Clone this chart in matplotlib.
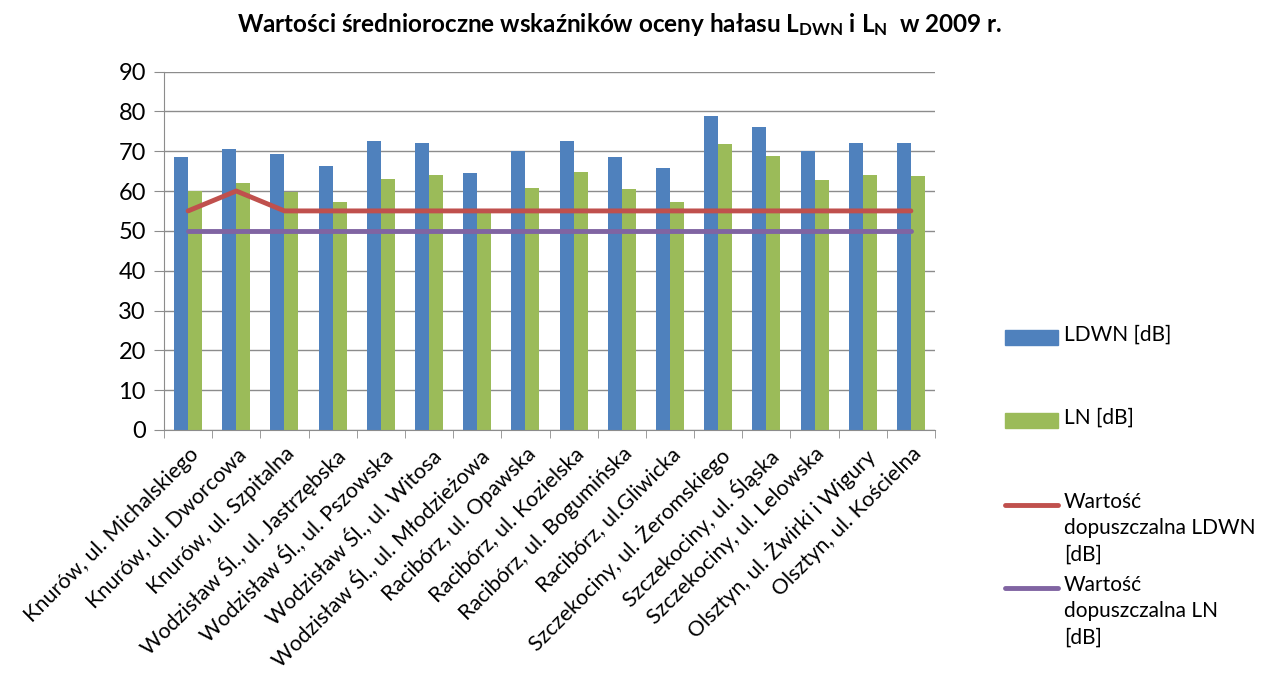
import numpy as np
import matplotlib.pyplot as plt
from matplotlib.patches import Rectangle
from matplotlib.lines import Line2D

plt.rcParams['font.family'] = ['Lato', 'DejaVu Sans']
plt.rcParams['mathtext.fontset'] = 'custom'
plt.rcParams['mathtext.rm'] = 'Lato'
plt.rcParams['mathtext.bf'] = 'Lato:bold'

stanowiska = [
    "Knurów, ul. Michalskiego",
    "Knurów, ul. Dworcowa",
    "Knurów, ul. Szpitalna",
    "Wodzisław Śl., ul. Jastrzębska",
    "Wodzisław Śl., ul. Pszowska",
    "Wodzisław Śl., ul. Witosa",
    "Wodzisław Śl., ul. Młodzieżowa",
    "Racibórz, ul. Opawska",
    "Racibórz, ul. Kozielska",
    "Racibórz, ul. Bogumińska",
    "Racibórz, ul.Gliwicka",
    "Szczekociny, ul. Żeromskiego",
    "Szczekociny, ul. Śląska",
    "Szczekociny, ul. Lelowska",
    "Olsztyn, ul. Żwirki i Wigury",
    "Olsztyn, ul. Kościelna",
]
ldwn = [68.5, 70.5, 69.2, 66.3, 72.5, 72.1, 64.6, 70.1,
        72.5, 68.5, 65.7, 78.9, 76.0, 70.1, 72.1, 72.1]
ln = [60.0, 62.1, 59.8, 57.2, 63.1, 64.0, 54.8, 60.8,
      64.7, 60.5, 57.2, 71.7, 68.9, 62.8, 64.0, 63.7]
dop_ldwn = [55, 60, 55, 55, 55, 55, 55, 55, 55, 55, 55, 55, 55, 55, 55, 55]
dop_ln = [50, 50, 50, 50, 50, 50, 50, 50, 50, 50, 50, 50, 50, 50, 50, 50]

nazwy = ["LDWN [dB]", "LN [dB]",
         "Wartość\ndopuszczalna LDWN\n[dB]", "Wartość\ndopuszczalna LN\n[dB]"]
kolory = ["#4F81BD", "#9BBB59", "#C0504D", "#8064A2"]

W, H = 1265, 673
fig = plt.figure(figsize=(W / 100, H / 100), dpi=100)
ax = fig.add_axes([164 / W, 1 - 430 / H, (935 - 164) / W, (430 - 71.5) / H])

x = np.arange(len(stanowiska))
bw = 0.29
ax.bar(x - bw / 2, ldwn, bw, color=kolory[0], zorder=2)
ax.bar(x + bw / 2, ln, bw, color=kolory[1], zorder=2)
ax.plot(x, dop_ldwn, color=kolory[2], lw=3.5, zorder=3, solid_capstyle='round')
ax.plot(x, dop_ln, color=kolory[3], lw=3.5, zorder=3, solid_capstyle='round')

ax.set_xlim(-0.5, len(stanowiska) - 0.5)
ax.set_ylim(0, 90)
ax.set_yticks(range(0, 91, 10))
ax.yaxis.grid(True, color='#8c8c8c', lw=1, zorder=0)
for s in ['top', 'right']:
    ax.spines[s].set_visible(False)
for s in ['left', 'bottom']:
    ax.spines[s].set_color('#8c8c8c')
ax.tick_params(axis='y', labelsize=17, length=7, color='#8c8c8c', pad=6)

ax.set_xticks(x)
ax.set_xticklabels(stanowiska, rotation=45, ha='right', rotation_mode='anchor', fontsize=15.5)
ax.tick_params(axis='x', which='major', length=0, pad=10)
ax.set_xticks(np.arange(-0.5, len(stanowiska), 1), minor=True)
ax.tick_params(axis='x', which='minor', length=6, color='#8c8c8c')

# legenda po prawej stronie
leg_y = [338, 421, 505, 588]
for i, (nazwa, kol) in enumerate(zip(nazwy, kolory)):
    yf = 1 - leg_y[i] / H
    if i < 2:
        fig.add_artist(Rectangle((1005 / W, yf - 7 / H), 53 / W, 15 / H,
                                 transform=fig.transFigure, color=kol))
    else:
        fig.add_artist(Line2D([1005 / W, 1058 / W], [yf, yf], transform=fig.transFigure,
                              color=kol, lw=3.5, solid_capstyle='round'))
    fig.text(1064 / W, yf + 13 / H, nazwa, fontsize=15, va='top', ha='left', linespacing=1.4)

fig.text(0.49, 1 - 24 / H,
         r"Wartości średnioroczne wskaźników oceny hałasu $\mathbf{L_{DWN}}$ i $\mathbf{L_{N}}$  w 2009 r.",
         fontsize=17.5, fontweight='bold', ha='center', va='center')

fig.savefig("out.png", dpi=100)
